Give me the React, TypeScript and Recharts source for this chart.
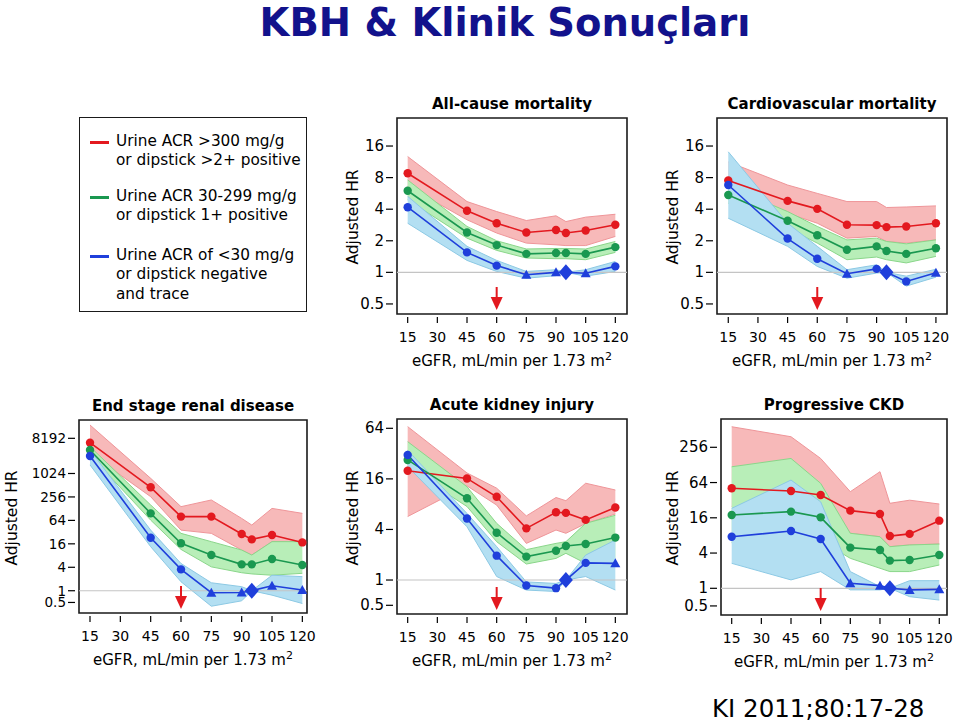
import React from 'react';
import { ComposedChart, Area, Line, XAxis, YAxis, ReferenceLine, ReferenceArea, ReferenceDot } from 'recharts';

const FONT = '"DejaVu Sans", Verdana, sans-serif';

const RED = '#e3191f';
const GREEN = '#1a9850';
const BLUE = '#1f3fdb';
const RED_FILL = '#f7b9b9';
const GREEN_FILL = '#b8eeb8';
const BLUE_FILL = '#b3dff2';
const RED_EDGE = '#ef9599';
const GREEN_EDGE = '#8ad68a';
const BLUE_EDGE = '#8cc9e4';

// eGFR categories (95 is the reference category)
const EGFR = [15, 45, 60, 75, 90, 95, 105, 120];
const EGFR_TICKS = [15, 30, 45, 60, 75, 90, 105, 120];
const ARROW_EGFR = 60;

// All-cause mortality
const allCauseRed = [8.8, 3.86, 2.94, 2.4, 2.53, 2.37, 2.51, 2.84];
const allCauseRedCI = [[6.6, 12.7], [3.17, 4.73], [2.37, 3.8], [1.9, 3.12], [1.83, 3.46], [1.8, 3.05], [1.8, 3.36], [2.2, 3.58]];
const allCauseGreen = [6.0, 2.4, 1.82, 1.5, 1.53, 1.53, 1.5, 1.74];
const allCauseGreenCI = [[4.9, 7.6], [2.12, 2.74], [1.62, 2.0], [1.37, 1.67], [1.35, 1.69], [1.35, 1.69], [1.32, 1.67], [1.55, 1.97]];
const allCauseBlue = [4.18, 1.55, 1.16, 0.95, 1.0, 1.0, 0.98, 1.14];
const allCauseBlueCI = [[2.94, 5.3], [1.3, 1.77], [1.02, 1.3], [0.88, 1.02], [0.93, 1.06], [1, 1], [0.92, 1.06], [1.02, 1.27]];
const allCauseBlueMarks = ['c', 'c', 'c', 't', 't', 'd', 't', 'c'];
const allCauseTicks = [0.5, 1, 2, 4, 8, 16];

// Cardiovascular mortality
const cvRed = [7.5, 4.8, 4.03, 2.84, 2.82, 2.7, 2.74, 2.94];
const cvRedCI = [[5.4, 11.3], [3.66, 6.8], [2.94, 5.66], [2.12, 4.73], [2.2, 4.73], [1.97, 4.15], [1.9, 4.2], [2.04, 4.3]];
const cvGreen = [5.47, 3.1, 2.26, 1.64, 1.77, 1.6, 1.5, 1.7];
const cvGreenCI = [[4.56, 6.6], [2.64, 3.8], [1.9, 2.74], [1.32, 2.04], [1.4, 2.12], [1.32, 1.97], [1.23, 1.87], [1.42, 2.04]];
const cvBlue = [6.8, 2.1, 1.35, 0.97, 1.08, 1.0, 0.82, 0.99];
const cvBlueCI = [[3.28, 14.1], [1.77, 2.94], [1.14, 1.77], [0.88, 1.06], [0.985, 1.18], [1, 1], [0.74, 0.92], [0.9, 1.07]];
const cvBlueMarks = ['c', 'c', 'c', 't', 'c', 'd', 'c', 't'];
const cvTicks = [0.5, 1, 2, 4, 8, 16];

// End stage renal disease
const esrdRed = [6340, 452, 80, 80, 28.6, 20.8, 27, 17.4];
const esrdRedCI = [[3380, 18000], [260, 770], [36, 144], [29.7, 214], [11.1, 72], [8.25, 48.6], [18.2, 130], [18, 97]];
const esrdGreen = [4100, 97, 16.5, 8.25, 4.75, 4.75, 6.5, 4.56];
const esrdGreenCI = [[3060, 5000], [65, 159], [11.5, 29.7], [4.1, 18.2], [2.9, 11.1], [2.7, 8.25], [2.5, 18.2], [2.8, 18.2]];
const esrdBlue = [2880, 23, 3.53, 0.89, 0.9, 1, 1.34, 1.04];
const esrdBlueCI = [[1700, 4100], [13.5, 36], [1.7, 5.0], [0.4, 1.6], [0.55, 1.27], [1, 1], [0.77, 2.5], [0.47, 2.3]];
const esrdBlueMarks = ['c', 'c', 'c', 't', 't', 'd', 't', 't'];
const esrdTicks = [0.5, 1, 4, 16, 64, 256, 1024, 8192];

// Acute kidney injury
const akiRed = [20, 16.2, 9.8, 4.12, 6.4, 6.3, 5.2, 7.3];
const akiRedCI = [[5.7, 67], [13.2, 18.8], [7.8, 12.4], [2.73, 5.8], [3.94, 9.6], [3.6, 8.8], [4.7, 14.2], [6.1, 11.8]];
const akiGreen = [26.9, 9.4, 3.66, 1.9, 2.23, 2.54, 2.68, 3.2];
const akiGreenCI = [[21.4, 44.4], [7.5, 12.9], [2.86, 4.73], [1.55, 2.3], [1.81, 2.73], [2.08, 2.86], [1.58, 4.73], [1.73, 5.9]];
const akiBlue = [30.8, 5.4, 1.95, 0.86, 0.8, 1, 1.6, 1.58];
const akiBlueCI = [[22.4, 35], [4.3, 6.2], [1.1, 2.5], [0.76, 0.95], [0.73, 0.91], [1, 1], [1.1, 1.98], [0.76, 3.0]];
const akiBlueMarks = ['c', 'c', 'c', 'c', 'c', 'd', 'c', 't'];
const akiTicks = [0.5, 1, 4, 16, 64];

// Progressive CKD
const ckdRed = [51, 45.9, 39.2, 21.2, 18.6, 7.8, 8.5, 14.3];
const ckdRedCI = [[25, 575], [22, 388], [20, 165], [8.7, 44.7], [7.6, 98], [5.14, 28.3], [5.5, 32], [5.7, 27.5]];
const ckdGreen = [17.9, 20.4, 16.3, 4.95, 4.5, 2.97, 3.05, 3.7];
const ckdGreenCI = [[6, 119], [7, 165], [6.5, 62], [3.25, 8.7], [2.2, 7.6], [1.93, 5.14], [1.93, 5.5], [2.5, 5.7]];
const ckdBlue = [7.6, 9.5, 6.96, 1.22, 1.11, 1, 0.94, 0.96];
const ckdBlueCI = [[2.67, 23.2], [1.39, 70.6], [1.93, 30], [0.94, 1.93], [0.94, 1.07], [1, 1], [0.72, 1.35], [0.63, 1.35]];
const ckdBlueMarks = ['c', 'c', 'c', 't', 't', 'd', 't', 't'];
const ckdTicks = [0.5, 1, 4, 16, 64, 256];

const LEGEND = [
  { color: RED, lines: ['Urine ACR >300 mg/g', 'or dipstick >2+ positive'] },
  { color: GREEN, lines: ['Urine ACR 30-299 mg/g', 'or dipstick 1+ positive'] },
  { color: BLUE, lines: ['Urine ACR of <30 mg/g', 'or dipstick negative', 'and trace'] },
];

const buildRows = (red, redCI, green, greenCI, blue, blueCI, blueMarks) =>
  EGFR.map((x, i) => ({
    x,
    red: red[i], redCI: redCI[i],
    green: green[i], greenCI: greenCI[i],
    blue: blue[i], blueCI: blueCI[i],
    mark: blueMarks[i],
  }));

const PANELS = [
  { title: 'All-cause mortality', left: 397, top: 118, width: 230, height: 196, xDomain: [9.6, 125.9], yDomain: [0.401, 29.6], yTicks: allCauseTicks, tickFont: 15,
    rows: buildRows(allCauseRed, allCauseRedCI, allCauseGreen, allCauseGreenCI, allCauseBlue, allCauseBlueCI, allCauseBlueMarks), yLabelX: 353 },
  { title: 'Cardiovascular mortality', left: 717, top: 118, width: 230, height: 196, xDomain: [9.3, 125.6], yDomain: [0.401, 29.6], yTicks: cvTicks, tickFont: 15,
    rows: buildRows(cvRed, cvRedCI, cvGreen, cvGreenCI, cvBlue, cvBlueCI, cvBlueMarks), yLabelX: 673 },
  { title: 'End stage renal disease', left: 79, top: 420, width: 228, height: 193, xDomain: [9.56, 122.3], yDomain: [0.268, 24200], yTicks: esrdTicks, tickFont: 13.5,
    rows: buildRows(esrdRed, esrdRedCI, esrdGreen, esrdGreenCI, esrdBlue, esrdBlueCI, esrdBlueMarks), yLabelX: 12 },
  { title: 'Acute kidney injury', left: 397, top: 419, width: 230, height: 195, xDomain: [9.6, 125.9], yDomain: [0.394, 82.6], yTicks: akiTicks, tickFont: 15,
    rows: buildRows(akiRed, akiRedCI, akiGreen, akiGreenCI, akiBlue, akiBlueCI, akiBlueMarks), yLabelX: 353 },
  { title: 'Progressive CKD', left: 721, top: 419, width: 226, height: 196, xDomain: [9.59, 123.9], yDomain: [0.35, 779], yTicks: ckdTicks, tickFont: 15,
    rows: buildRows(ckdRed, ckdRedCI, ckdGreen, ckdGreenCI, ckdBlue, ckdBlueCI, ckdBlueMarks), yLabelX: 673 },
];

const YW = 60;
const XH = 40;
const RM = 20;

const XTick = ({ x, y, payload }: any) => (
  <g>
    <line x1={x} x2={x} y1={y + 3} y2={y + 9} stroke="#000" strokeWidth={1.2} />
    <text x={x} y={y + 23} textAnchor="middle" dominantBaseline="central" fontSize={14} fontFamily={FONT} fill="#000">{payload.value}</text>
  </g>
);

const makeYTick = (size: number) => ({ x, y, payload }: any) => (
  <g>
    <line x1={x - 11} x2={x - 4} y1={y} y2={y} stroke="#000" strokeWidth={1.2} />
    <text x={x - 13} y={y} textAnchor="end" dominantBaseline="central" fontSize={size} fontFamily={FONT} fill="#000">{String(payload.value)}</text>
  </g>
);

const Arrow = ({ cx, cy }: any) => (
  <g>
    <line x1={cx} x2={cx} y1={cy - 27} y2={cy - 14} stroke={RED} strokeWidth={2} />
    <polygon points={`${cx - 6},${cy - 17} ${cx + 6},${cy - 17} ${cx},${cy - 4}`} fill={RED} />
  </g>
);

const circleDot = (color: string) => (props: any) => {
  const { cx, cy, index } = props;
  if (cx == null || cy == null) return <g key={index} />;
  return <circle key={index} cx={cx} cy={cy} r={4.2} fill={color} />;
};

const BlueDot = (props: any) => {
  const { cx, cy, index, payload } = props;
  if (cx == null || cy == null) return <g key={index} />;
  if (payload.mark === 't') {
    return <polygon key={index} points={`${cx - 5},${cy + 4} ${cx + 5},${cy + 4} ${cx},${cy - 5}`} fill={BLUE} />;
  }
  if (payload.mark === 'd') {
    return <polygon key={index} points={`${cx},${cy - 8} ${cx + 7},${cy} ${cx},${cy + 8} ${cx - 7},${cy}`} fill={BLUE} />;
  }
  return <circle key={index} cx={cx} cy={cy} r={4.2} fill={BLUE} />;
};

const Centered = ({ x, y, style, children }: any) => (
  <div style={{ position: 'absolute', left: x, top: y, transform: 'translate(-50%, -50%)', whiteSpace: 'nowrap', fontFamily: FONT, ...style }}>
    {children}
  </div>
);

const Panel = ({ p }: any) => {
  const cx = p.left + p.width / 2;
  const bottom = p.top + p.height;
  return (
    <>
      <Centered x={cx} y={p.top - 14} style={{ fontSize: 15, fontWeight: 'bold' }}>{p.title}</Centered>
      <Centered x={p.yLabelX} y={p.top + p.height / 2 + 1} style={{ fontSize: 15.5, transform: 'translate(-50%, -50%) rotate(-90deg)' }}>Adjusted HR</Centered>
      <Centered x={cx} y={bottom + 46} style={{ fontSize: 15 }}>
        eGFR, mL/min per 1.73 m<sup style={{ fontSize: 11 }}>2</sup>
      </Centered>
      <div style={{ position: 'absolute', left: p.left - YW, top: p.top - 2 }}>
        <ComposedChart width={YW + p.width + RM} height={p.height + 2 + XH} data={p.rows} margin={{ top: 2, right: RM, left: 0, bottom: 0 }}>
          <XAxis type="number" dataKey="x" domain={p.xDomain} ticks={EGFR_TICKS} interval={0} allowDataOverflow
            axisLine={false} tickLine={false} tickSize={0} tickMargin={0} height={XH} tick={XTick} />
          <YAxis type="number" scale="log" domain={p.yDomain} ticks={p.yTicks} interval={0} allowDataOverflow
            axisLine={false} tickLine={false} tickSize={0} tickMargin={0} width={YW} tick={makeYTick(p.tickFont)} />
          <Area type="linear" dataKey="redCI" fill={RED_FILL} fillOpacity={1} stroke={RED_EDGE} strokeWidth={1} isAnimationActive={false} />
          <Area type="linear" dataKey="greenCI" fill={GREEN_FILL} fillOpacity={1} stroke={GREEN_EDGE} strokeWidth={1} isAnimationActive={false} />
          <Area type="linear" dataKey="blueCI" fill={BLUE_FILL} fillOpacity={1} stroke={BLUE_EDGE} strokeWidth={1} isAnimationActive={false} />
          <ReferenceLine y={1} stroke="#c4c4c4" strokeWidth={1.2} />
          <Line type="linear" dataKey="red" stroke={RED} strokeWidth={1.6} dot={circleDot(RED)} activeDot={false} isAnimationActive={false} />
          <Line type="linear" dataKey="green" stroke={GREEN} strokeWidth={1.6} dot={circleDot(GREEN)} activeDot={false} isAnimationActive={false} />
          <Line type="linear" dataKey="blue" stroke={BLUE} strokeWidth={1.6} dot={BlueDot} activeDot={false} isAnimationActive={false} />
          <ReferenceDot x={ARROW_EGFR} y={p.yDomain[0]} shape={Arrow} />
          <ReferenceArea x1={p.xDomain[0]} x2={p.xDomain[1]} y1={p.yDomain[0]} y2={p.yDomain[1]} fill="none" fillOpacity={0} stroke="#1a1a1a" strokeWidth={1.6} />
        </ComposedChart>
      </div>
    </>
  );
};

export default function App() {
  return (
    <div style={{ position: 'absolute', left: 0, top: 0, width: 960, height: 728, background: '#fff', overflow: 'hidden' }}>
      <div style={{ position: 'absolute', left: 0, width: 1010, top: 0, textAlign: 'center', fontFamily: FONT, fontWeight: 'bold', fontSize: 38.5, color: '#12128c', whiteSpace: 'nowrap' }}>
        KBH &amp; Klinik Sonuçları
      </div>

      <div style={{ position: 'absolute', left: 79, top: 117, width: 226, height: 193, border: '1.6px solid #1a1a1a', fontFamily: FONT, fontSize: 15.3 }}>
        {LEGEND.map((item, i) => (
          <div key={i} style={{ position: 'absolute', left: 0, top: [15, 70, 129][i] }}>
            <div style={{ position: 'absolute', left: 10, top: 8, width: 19, height: 3, background: item.color }} />
            {item.lines.map((ln, j) => (
              <div key={j} style={{ position: 'absolute', left: 36, top: j * 19.3 - 1, lineHeight: '19px', whiteSpace: 'nowrap' }}>{ln}</div>
            ))}
          </div>
        ))}
      </div>

      {PANELS.map((p, i) => <Panel key={i} p={p} />)}

      <div style={{ position: 'absolute', left: 712, top: 694, fontFamily: FONT, fontSize: 24.5, color: '#000', whiteSpace: 'nowrap' }}>
        KI 2011;80:17-28
      </div>
    </div>
  );
}
